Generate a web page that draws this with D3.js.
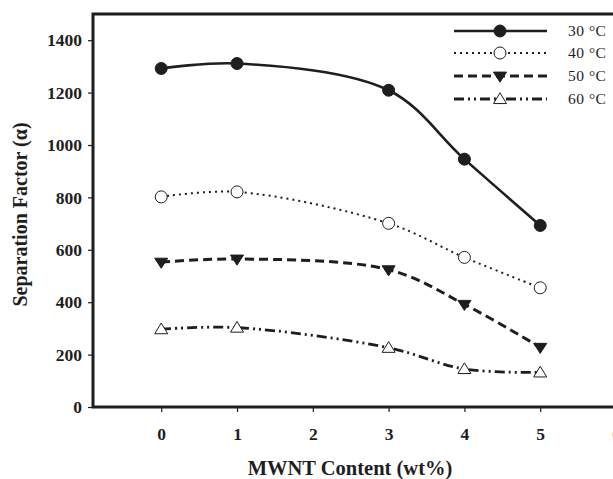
<!DOCTYPE html>
<html>
<head>
<meta charset="utf-8">
<script src="https://cdn.jsdelivr.net/npm/d3@7"></script>
<style>
  html, body { margin: 0; padding: 0; background: #fff; }
  svg { display: block; }
  text { font-family: "Liberation Serif", "Times New Roman", serif; fill: #1e1e1e; }
</style>
</head>
<body>
<svg id="chart" width="613" height="479"></svg>
<script>
// MWNT content (wt%) at which separation factor was measured
const content = [0, 1, 3, 4, 5];

// Separation factor (α) for each feed temperature
const sep30 = [1292, 1311, 1209, 946, 693];
const sep40 = [802, 821, 701, 571, 455];
const sep50 = [553, 565, 524, 392, 228];
const sep60 = [297, 303, 226, 145, 132];

const seriesLabels = ["30 °C", "40 °C", "50 °C", "60 °C"];
const xTicks = [0, 1, 2, 3, 4, 5, 6];
const yTicks = [0, 200, 400, 600, 800, 1000, 1200, 1400];

const svg = d3.select("#chart");
const frame = { left: 93, top: 14, bottom: 407 };

const x = d3.scaleLinear().domain([-0.9, 6.9]).range([frame.left, frame.left + 7.8 * 75.8]);
const y = d3.scaleLinear().domain([0, 1500]).range([frame.bottom, frame.top]);

const ink = "#1e1e1e";

// Series styling: stroke pattern and marker kind
const styles = [
  { values: sep30, width: 2.6, dash: null, marker: "circle", fill: true },
  { values: sep40, width: 2, dash: "2,4", marker: "circle", fill: false },
  { values: sep50, width: 3, dash: "9,5", marker: "down", fill: true },
  { values: sep60, width: 2.8, dash: "10,4,2,4,2,4", marker: "up", fill: false }
];

// Axes
const yAxis = d3.axisLeft(y).tickValues(yTicks).tickSize(5).tickPadding(6).tickFormat(d3.format("d"));
const gy = svg.append("g").attr("transform", `translate(${frame.left},0)`).call(yAxis);
gy.select(".domain").remove();
gy.selectAll("line").attr("stroke", ink).attr("stroke-width", 1.2);
gy.selectAll("text").attr("font-size", 17.5).attr("font-weight", "bold").attr("fill", ink)
  .attr("font-family", "Liberation Serif, serif");

const xAxis = d3.axisBottom(x).tickValues(xTicks).tickSize(5).tickPadding(16).tickFormat(d3.format("d"));
const gx = svg.append("g").attr("transform", `translate(0,${frame.bottom})`).call(xAxis);
gx.select(".domain").remove();
gx.selectAll("line").attr("stroke", ink).attr("stroke-width", 1.2);
gx.selectAll("text").attr("font-size", 17.5).attr("font-weight", "bold").attr("fill", ink)
  .attr("font-family", "Liberation Serif, serif");

// Plot frame (right edge runs past the visible area)
const xr = x.range()[1];
svg.append("path")
  .attr("d", `M${xr},${frame.top}H${frame.left}V${frame.bottom}H${xr}`)
  .attr("fill", "none").attr("stroke", ink).attr("stroke-width", 3);

// Axis titles
svg.append("text")
  .attr("x", 350).attr("y", 475)
  .attr("text-anchor", "middle")
  .attr("font-size", 20.5).attr("font-weight", "bold")
  .text("MWNT Content (wt%)");

svg.append("text")
  .attr("transform", `translate(27,${(frame.top + frame.bottom) / 2 + 4}) rotate(-90)`)
  .attr("text-anchor", "middle")
  .attr("font-size", 20).attr("font-weight", "bold")
  .text("Separation Factor (α)");

const line = d3.line()
  .x((d, i) => x(content[i]))
  .y(d => y(d))
  .curve(d3.curveCatmullRom.alpha(0.5));

function drawMarker(g, cx, cy, kind, filled) {
  if (kind === "circle") {
    g.append("circle").attr("cx", cx).attr("cy", cy).attr("r", 6)
      .attr("fill", filled ? ink : "#fff").attr("stroke", ink).attr("stroke-width", 1);
  } else {
    const s = 6.5;
    const pts = kind === "down"
      ? [[cx - s, cy - s * 0.6], [cx + s, cy - s * 0.6], [cx, cy + s * 0.95]]
      : [[cx - s, cy + s * 0.7], [cx + s, cy + s * 0.7], [cx, cy - s * 0.95]];
    g.append("path").attr("d", "M" + pts.map(p => p.join(",")).join("L") + "Z")
      .attr("fill", filled ? ink : "#fff").attr("stroke", ink).attr("stroke-width", 1);
  }
}

const plot = svg.append("g");
styles.forEach(s => {
  plot.append("path")
    .attr("d", line(s.values))
    .attr("fill", "none")
    .attr("stroke", ink)
    .attr("stroke-width", s.width)
    .attr("stroke-dasharray", s.dash);
  s.values.forEach((v, i) => drawMarker(plot, x(content[i]), y(v), s.marker, s.fill));
});

// Legend
const legendY = [31, 53, 76, 99];
const legend = svg.append("g");
styles.forEach((s, i) => {
  const ly = legendY[i];
  legend.append("line")
    .attr("x1", 454).attr("x2", 547).attr("y1", ly).attr("y2", ly)
    .attr("stroke", ink).attr("stroke-width", s.width)
    .attr("stroke-dasharray", s.dash);
  drawMarker(legend, 500, ly, s.marker, s.fill);
  legend.append("text")
    .attr("x", 568).attr("y", ly + 5)
    .attr("font-size", 15.5)
    .attr("letter-spacing", 0.5)
    .text(seriesLabels[i]);
});
</script>
</body>
</html>
